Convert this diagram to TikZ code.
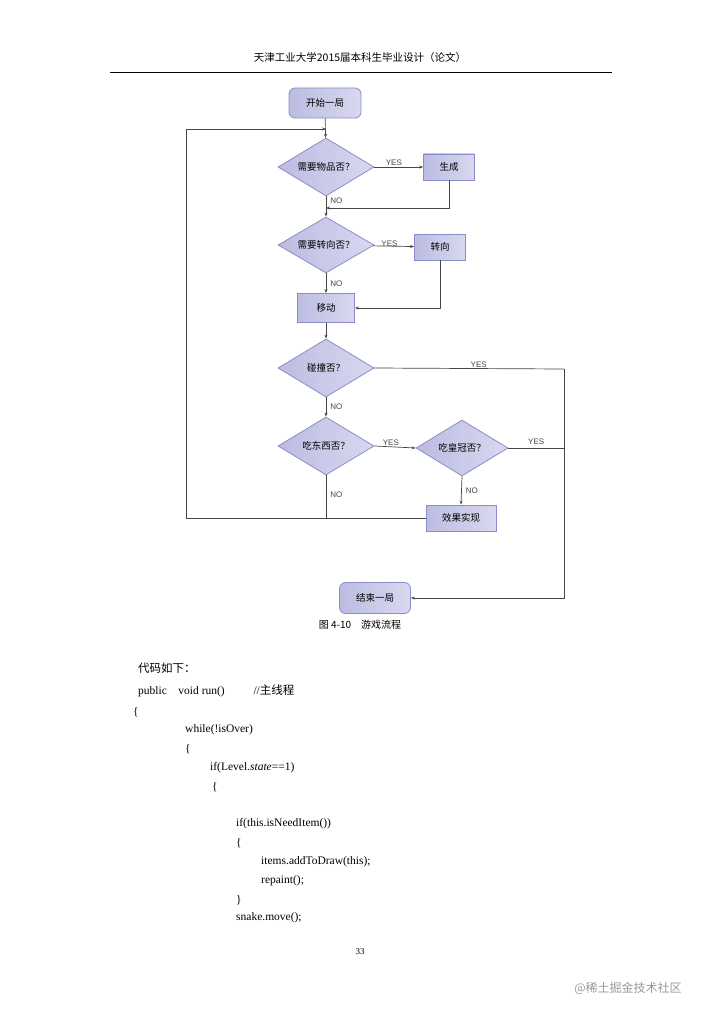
\documentclass[tikz,border=0pt]{standalone}
\usepackage{fontspec}
\setmainfont{Liberation Serif}
\newfontfamily\cjk{Noto Sans CJK SC}
\newfontfamily\lsans{Liberation Sans}
\usetikzlibrary{shapes.geometric,arrows.meta}
\definecolor{bfill}{RGB}{188,188,226}
\definecolor{bfilll}{RGB}{216,216,240}
\definecolor{bdraw}{RGB}{140,140,200}
\definecolor{lin}{RGB}{70,70,70}
\begin{document}
\begin{tikzpicture}[x=1pt,y=-1pt,
 sh/.style={draw=bdraw,line width=0.8pt,left color=bfill,right color=bfilll,font=\cjk\fontsize{9.5}{10}\selectfont,inner sep=0pt},
 term/.style={sh,rounded corners=6pt,minimum width=72pt,minimum height=30pt},
 box/.style={sh,minimum width=51pt,minimum height=26pt},
 dec/.style={sh,diamond,aspect=1.65,minimum width=96pt,minimum height=58pt},
 lab/.style={font=\lsans\fontsize{8}{9}\selectfont,text=lin,inner sep=1pt},
 ln/.style={draw=lin,line width=0.7pt},
 ar/.style={ln,-{Stealth[length=4pt,width=3pt]}},
 code/.style={anchor=west,font=\fontsize{11.5}{13}\selectfont,inner sep=0pt},
 ccode/.style={code,font=\cjk\fontsize{11.5}{13}\selectfont}]
\useasboundingbox (0,0) rectangle (720,1019);
\fill[white] (0,0) rectangle (720,1019);
\node[font=\cjk\fontsize{10.5}{12}\selectfont] (hdr) at (360,58) {天津工业大学2015届本科生毕业设计（论文）};
\draw[line width=0.5pt] (110,72) coordinate (h1) -- (612,72) coordinate (h2);

\node[term] (start) at (325,103) {开始一局};
\node[dec] (d1) at (326,167) {需要物品否？};
\node[box] (gen) at (449,167) {生成};
\node[dec,minimum height=56pt] (d2) at (326,245) {需要转向否？};
\node[box] (turn) at (440,247) {转向};
\node[box,minimum width=57pt,minimum height=29pt] (move) at (326,308) {移动};
\node[dec] (d3) at (326,368) {碰撞否？};
\node[dec] (d4) at (326,446) {吃东西否？};
\node[dec,minimum width=92pt,minimum height=56pt] (d5) at (462,448) {吃皇冠否？};
\node[box,minimum width=70pt] (eff) at (461,518) {效果实现};
\node[term,minimum width=71pt,minimum height=31pt] (end) at (375,598) {结束一局};

\coordinate (top) at (326,129);
\coordinate (m1) at (326,208);
\coordinate (lb) at (186,518);
\coordinate (lt) at (186,129);
\coordinate (rx) at (564,369);
\coordinate (ry) at (564,598);
\coordinate (d4b) at (326,518);
\coordinate (d5r) at (564,448);

\draw[ar] (start) -- (d1);
\draw[ar] (d1) -- (gen) node[lab,pos=0.4,above] {YES};
\draw[ar] (d1.south) -- (d2.north) node[lab,pos=0.05,right,xshift=3pt,yshift=-3pt] {NO};
\draw[ar] (gen.south) |- (m1);
\draw[ar] (d2) -- (turn) node[lab,pos=0.4,above,yshift=-2pt] {YES};
\draw[ar] (d2.south) -- (move.north) node[lab,midway,right,xshift=3pt] {NO};
\draw[ar] (turn.south) |- (move.east);
\draw[ar] (move) -- (d3);
\draw[ln] (d3.east) -- (rx) node[lab,pos=0.55,above] {YES};
\draw[ar] (rx) -- (ry) -- (end.east);
\draw[ar] (d3.south) -- (d4.north) node[lab,midway,right,xshift=3pt] {NO};
\draw[ar] (d4.east) -- (d5.west) node[lab,pos=0.4,above] {YES};
\draw[ln] (d5.east) -- (d5r) node[lab,midway,above,yshift=2pt] {YES};
\draw[ar] (d5.south) -- (eff.north) node[lab,midway,right,xshift=3pt] {NO};
\draw[ln] (d4.south) -- (d4b) node[lab,pos=0.45,right,xshift=3pt] {NO};
\draw[ar] (eff.west) -- (lb) -- (lt) -- (top);

\node[font=\cjk\fontsize{10}{12}\selectfont] (cap) at (360,625) {图 4-10\quad 游戏流程};

\node[ccode] (c0) at (138,668) {代码如下：};
\node[code] (c1) at (138,691) {public\quad void run()\qquad\ \ //{\cjk 主线程}};
\node[code] (c2) at (133,712) {\{};
\node[code] (c3) at (185,730) {while(!isOver)};
\node[code] (c4) at (185,749) {\{};
\node[code] (c5) at (210,768) {if(Level.\textit{state}==1)};
\node[code] (c6) at (212,787) {\{};
\node[code] (c7) at (236,824) {if(this.isNeedItem())};
\node[code] (c8) at (236,843) {\{};
\node[code] (c9) at (261,862) {items.addToDraw(this);};
\node[code] (c10) at (261,881) {repaint();};
\node[code] (c11) at (236,900) {\}};
\node[code] (c12) at (236,918) {snake.move();};
\node[font=\fontsize{9}{10}\selectfont] (pg) at (360,952) {33};
\node[font=\cjk\fontsize{12}{14}\selectfont,text=gray!80] (wm) at (628,988) {@稀土掘金技术社区};
\end{tikzpicture}
\end{document}
